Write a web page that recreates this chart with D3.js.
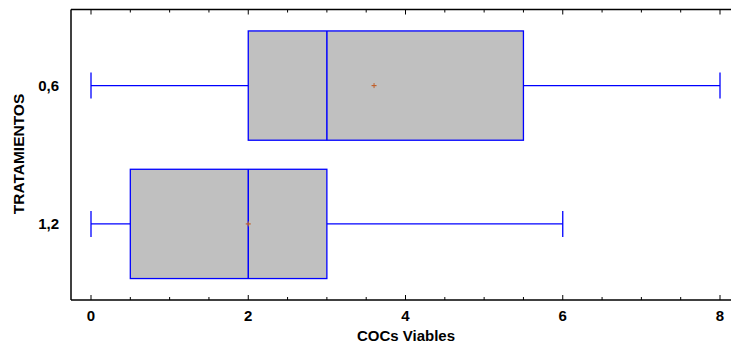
<!DOCTYPE html>
<html>
<head>
<meta charset="utf-8">
<script src="https://cdn.jsdelivr.net/npm/d3@7"></script>
<style>
  body { margin: 0; background: #fff; }
  text { font-family: "Liberation Sans", Arial, sans-serif; font-weight: bold; fill: #000; }
</style>
</head>
<body>
<svg width="731" height="347"></svg>
<script>
// Data
const treatments = ['0,6', '1,2'];
const whiskerLow = [0, 0];
const q1 = [2, 0.5];
const median = [3, 2];
const q3 = [5.5, 3];
const whiskerHigh = [8, 6];
const means = [3.6, 2];
const xTicks = [0, 2, 4, 6, 8];

const boxes = treatments.map((t, i) => ({
  t, lo: whiskerLow[i], q1: q1[i], med: median[i], q3: q3[i], hi: whiskerHigh[i], mean: means[i]
}));

const svg = d3.select('svg');
const frame = {left: 71, top: 9.5, bottom: 300, right: 731};

const x = d3.scaleLinear().domain([0, 8]).range([91, 720]);
const y = d3.scaleBand().domain(treatments).range([frame.top, frame.bottom]).paddingOuter(0.05).paddingInner(0);
const step = y.step();
const boxH = step * 0.79;
const capH = 26;

// Frame
svg.append('line').attr('x1', frame.left).attr('x2', frame.right).attr('y1', frame.top).attr('y2', frame.top).attr('stroke', '#000').attr('stroke-width', 1.5);
svg.append('line').attr('x1', frame.left).attr('x2', frame.right).attr('y1', frame.bottom).attr('y2', frame.bottom).attr('stroke', '#000').attr('stroke-width', 1.5);
svg.append('line').attr('x1', frame.left).attr('x2', frame.left).attr('y1', frame.top).attr('y2', frame.bottom).attr('stroke', '#000').attr('stroke-width', 1.5);

// Ticks (major + minor), inward on top and bottom
const minor = d3.range(0, 8.01, 0.5);
minor.forEach(v => {
  const major = Number.isInteger(v / 2);
  const len = major ? 5 : 3;
  svg.append('line').attr('x1', x(v)).attr('x2', x(v)).attr('y1', frame.bottom).attr('y2', frame.bottom - len).attr('stroke', '#000').attr('stroke-width', 1);
  svg.append('line').attr('x1', x(v)).attr('x2', x(v)).attr('y1', frame.top).attr('y2', frame.top + len).attr('stroke', '#000').attr('stroke-width', 1);
});

svg.append('g').selectAll('text').data(xTicks).enter().append('text')
  .attr('x', d => x(d)).attr('y', 321).attr('text-anchor', 'middle').attr('font-size', 15)
  .text(d => d);

svg.append('text').attr('x', 406).attr('y', 341).attr('text-anchor', 'middle').attr('font-size', 15).text('COCs Viables');

svg.append('g').selectAll('text').data(treatments).enter().append('text')
  .attr('x', 59).attr('y', d => y(d) + step / 2 + 5.5).attr('text-anchor', 'end').attr('font-size', 15)
  .text(d => d);

svg.append('text').attr('transform', 'translate(24,154) rotate(-90)').attr('text-anchor', 'middle').attr('font-size', 15.5).text('TRATAMIENTOS');

// Boxes
const g = svg.append('g').selectAll('g').data(boxes).enter().append('g');
const cy = d => y(d.t) + step / 2;

g.append('line').attr('x1', d => x(d.lo)).attr('x2', d => x(d.q1)).attr('y1', cy).attr('y2', cy).attr('stroke', '#0000ff').attr('stroke-width', 1.3);
g.append('line').attr('x1', d => x(d.q3)).attr('x2', d => x(d.hi)).attr('y1', cy).attr('y2', cy).attr('stroke', '#0000ff').attr('stroke-width', 1.3);
g.append('line').attr('x1', d => x(d.lo)).attr('x2', d => x(d.lo)).attr('y1', d => cy(d) - capH / 2).attr('y2', d => cy(d) + capH / 2).attr('stroke', '#0000ff').attr('stroke-width', 1.3);
g.append('line').attr('x1', d => x(d.hi)).attr('x2', d => x(d.hi)).attr('y1', d => cy(d) - capH / 2).attr('y2', d => cy(d) + capH / 2).attr('stroke', '#0000ff').attr('stroke-width', 1.3);

g.append('rect').attr('x', d => x(d.q1)).attr('width', d => x(d.q3) - x(d.q1))
  .attr('y', d => cy(d) - boxH / 2).attr('height', boxH)
  .attr('fill', '#c0c0c0').attr('stroke', '#0000ff').attr('stroke-width', 1.3);
g.append('line').attr('x1', d => x(d.med)).attr('x2', d => x(d.med)).attr('y1', d => cy(d) - boxH / 2).attr('y2', d => cy(d) + boxH / 2).attr('stroke', '#0000ff').attr('stroke-width', 1.5);

// Mean markers
g.append('line').attr('x1', d => x(d.mean) - 2.5).attr('x2', d => x(d.mean) + 2.5).attr('y1', cy).attr('y2', cy).attr('stroke', '#c0602a').attr('stroke-width', 1.2);
g.append('line').attr('x1', d => x(d.mean)).attr('x2', d => x(d.mean)).attr('y1', d => cy(d) - 2.5).attr('y2', d => cy(d) + 2.5).attr('stroke', '#c0602a').attr('stroke-width', 1);
</script>
</body>
</html>
